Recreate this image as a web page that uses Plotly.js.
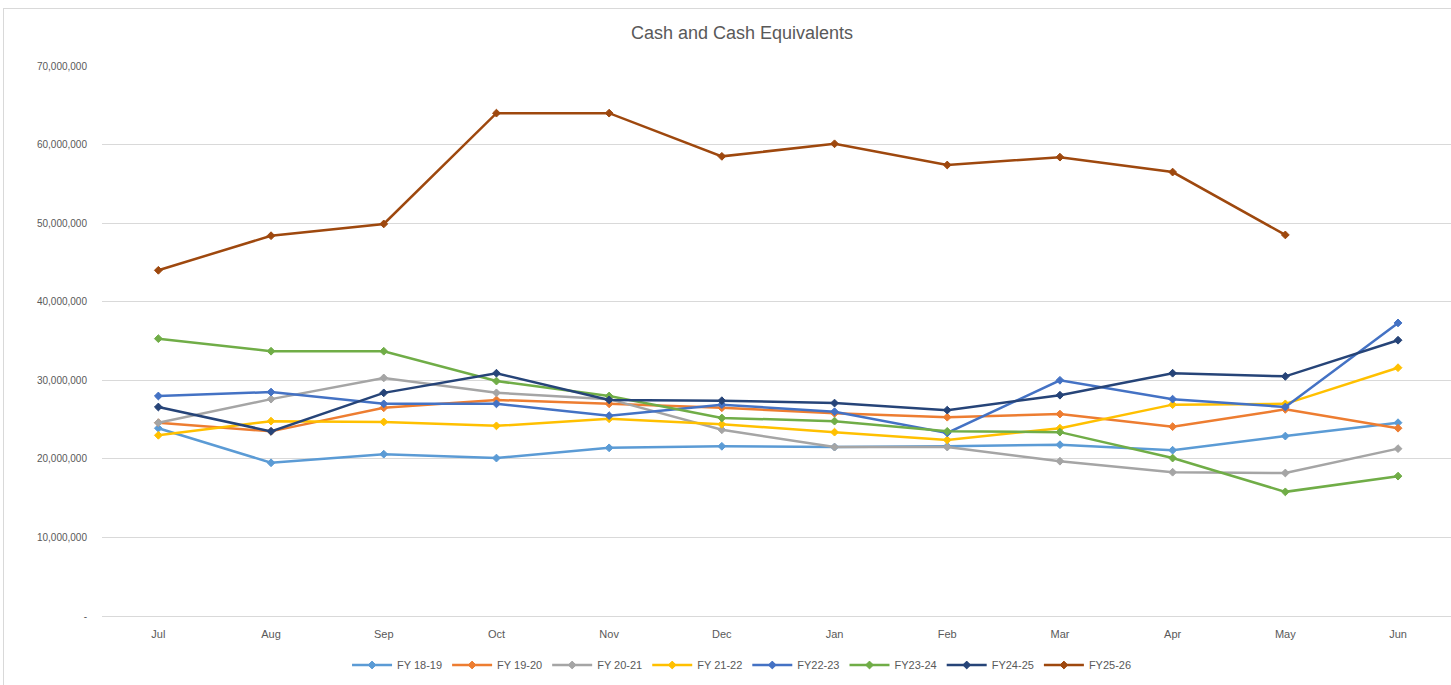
<!DOCTYPE html>
<html>
<head>
<meta charset="utf-8">
<script src="https://cdn.plot.ly/plotly-3.0.1.min.js"></script>
<style>
  html, body { margin: 0; padding: 0; background: #fff; }
  #frame { position: absolute; left: 3px; top: 8px; width: 1460px; height: 690px; border: 1px solid #d9d9d9; }
  #chart { position: absolute; left: 0; top: 0; width: 1451px; height: 685px; }
</style>
</head>
<body>
<div id="frame"></div>
<div id="chart"></div>
<script>
const months = ["Jul","Aug","Sep","Oct","Nov","Dec","Jan","Feb","Mar","Apr","May","Jun"];
const seriesNames = ["FY 18-19","FY 19-20","FY 20-21","FY 21-22","FY22-23","FY23-24","FY24-25","FY25-26"];
const fy1819 = [23900000,19500000,20600000,20100000,21400000,21600000,21500000,21600000,21800000,21100000,22900000,24600000];
const fy1920 = [24600000,23500000,26500000,27500000,27000000,26500000,25800000,25300000,25700000,24100000,26300000,23900000];
const fy2021 = [24600000,27600000,30300000,28400000,27600000,23700000,21500000,21500000,19700000,18300000,18200000,21300000];
const fy2122 = [23000000,24800000,24700000,24200000,25100000,24400000,23400000,22400000,23900000,26900000,27000000,31600000];
const fy2223 = [28000000,28500000,27000000,27000000,25500000,26900000,26000000,23300000,30000000,27600000,26600000,37300000];
const fy2324 = [35300000,33700000,33700000,29900000,28000000,25200000,24800000,23500000,23400000,20100000,15800000,17800000];
const fy2425 = [26600000,23500000,28400000,30900000,27500000,27400000,27100000,26200000,28100000,30900000,30500000,35100000];
const fy2526 = [44000000,48400000,49900000,64000000,64000000,58500000,60100000,57400000,58400000,56500000,48500000,null];
const yTickVals = [0,10000000,20000000,30000000,40000000,50000000,60000000,70000000];
const yTickText = ["-","10,000,000","20,000,000","30,000,000","40,000,000","50,000,000","60,000,000","70,000,000"];

const allSeries = [fy1819, fy1920, fy2021, fy2122, fy2223, fy2324, fy2425, fy2526];
const colors = ["#5B9BD5","#ED7D31","#A5A5A5","#FFC000","#4472C4","#70AD47","#264478","#9E480E"];

const traces = allSeries.map((vals, i) => ({
  type: "scatter",
  mode: "lines+markers",
  name: seriesNames[i],
  x: months,
  y: vals,
  line: { color: colors[i], width: 2.5 },
  marker: { color: colors[i], size: 6, symbol: "diamond", line: { color: colors[i], width: 1 } },
  connectgaps: false
}));

const layout = {
  width: 1451,
  height: 685,
  paper_bgcolor: "rgba(0,0,0,0)",
  plot_bgcolor: "rgba(0,0,0,0)",
  margin: { l: 102, r: 0, t: 66, b: 69 },
  font: { family: "Liberation Sans, Arial, sans-serif", color: "#595959", size: 11 },
  title: {
    text: "Cash and Cash Equivalents",
    font: { family: "Liberation Sans, Arial, sans-serif", size: 18, color: "#595959" },
    xref: "container", x: 0.5114, xanchor: "center",
    yref: "container", y: 1 - 33/685, yanchor: "middle"
  },
  xaxis: {
    type: "category",
    range: [-0.5, 11.47],
    showgrid: false,
    zeroline: false,
    showline: false,
    ticks: "",
    ticklabelstandoff: 10,
    tickfont: { size: 11, color: "#595959" },
    fixedrange: true
  },
  yaxis: {
    range: [0, 70000000],
    tickvals: yTickVals,
    ticktext: yTickText,
    showgrid: true,
    gridcolor: "#d9d9d9",
    gridwidth: 1,
    zeroline: true,
    zerolinecolor: "#d9d9d9",
    zerolinewidth: 1,
    showline: false,
    ticks: "",
    ticklabelstandoff: 14,
    tickfont: { size: 10, color: "#595959" },
    fixedrange: true
  },
  showlegend: true,
  legend: {
    orientation: "h",
    xref: "container", x: 0.5114, xanchor: "center",
    yref: "container", y: 1 - 665/685, yanchor: "middle",
    font: { size: 11, color: "#595959" },
    itemwidth: 40,
    tracegroupgap: 0
  }
};

Plotly.newPlot("chart", traces, layout, { displayModeBar: false, staticPlot: true });
</script>
</body>
</html>
